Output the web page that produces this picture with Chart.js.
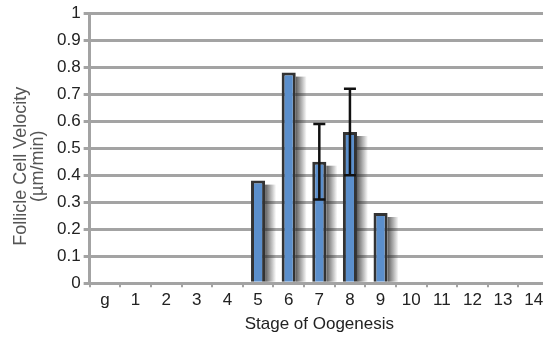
<!DOCTYPE html>
<html>
<head>
<meta charset="utf-8">
<script src="https://cdn.jsdelivr.net/npm/chart.js"></script>
<style>
  html, body { margin: 0; padding: 0; background: #fff; overflow: hidden; }
  /* the original plot runs a few pixels past the right edge of the picture */
  #clip { width: 543px; height: 337px; overflow: hidden; }
  #wrap { width: 549px; height: 337px; }
</style>
</head>
<body>
<div id="clip"><div id="wrap"><canvas id="barChart"></canvas></div></div>
<script>
// stages of oogenesis on the x axis
const stages = ['g', '1', '2', '3', '4', '5', '6', '7', '8', '9', '10', '11', '12', '13', '14'];
// mean velocity per stage (um/min), null where nothing was measured
const velocity = [null, null, null, null, null, 0.38, 0.78, 0.45, 0.56, 0.26, null, null, null, null, null];
// error bar ends, only stages 7 and 8 have them
const errLow  = [null, null, null, null, null, null, null, 0.31, 0.40, null, null, null, null, null, null];
const errHigh = [null, null, null, null, null, null, null, 0.59, 0.72, null, null, null, null, null, null];
const yTitle = ['Follicle Cell Velocity', '(µm/min)'];

const gridGray = '#a3a3a3';
const font = 'Liberation Sans, Arial, sans-serif';

// soft shadow strip to the right of each bar
const barShadow = {
  id: 'barShadow',
  beforeDatasetsDraw(chart) {
    const c = chart.ctx;
    const meta = chart.getDatasetMeta(0);
    c.save();
    meta.data.forEach((bar, i) => {
      if (velocity[i] == null) return;
      const right = bar.x + bar.width / 2;
      const g = c.createLinearGradient(right, 0, right + 11, 0);
      g.addColorStop(0, 'rgba(40,40,40,0.75)');
      g.addColorStop(1, 'rgba(40,40,40,0)');
      c.fillStyle = g;
      c.fillRect(right, bar.y + 4, 11, bar.base - bar.y - 4);
    });
    c.restore();
  }
};

// error bars drawn through the scales
const errorBars = {
  id: 'errorBars',
  afterDatasetsDraw(chart) {
    const c = chart.ctx;
    const y = chart.scales.y;
    const meta = chart.getDatasetMeta(0);
    c.save();
    c.strokeStyle = '#111';
    c.lineWidth = 2.5;
    meta.data.forEach((bar, i) => {
      if (errLow[i] == null) return;
      const x = bar.x;
      const yl = y.getPixelForValue(errLow[i]);
      const yh = y.getPixelForValue(errHigh[i]);
      c.beginPath();
      c.moveTo(x, yl); c.lineTo(x, yh);
      c.moveTo(x - 6, yl); c.lineTo(x + 6, yl);
      c.moveTo(x - 6, yh); c.lineTo(x + 6, yh);
      c.stroke();
    });
    c.restore();
  }
};

// two-line y title, placed like the original (a bit below centre)
const yAxisTitle = {
  id: 'yAxisTitle',
  afterDraw(chart) {
    const c = chart.ctx;
    const area = chart.chartArea;
    const cy = (area.top + area.bottom) / 2 + 18;
    c.save();
    c.fillStyle = '#555';
    c.font = '18px ' + font;
    c.textAlign = 'center';
    c.textBaseline = 'middle';
    yTitle.forEach((line, k) => {
      c.save();
      c.translate(21 + k * 17, cy);
      c.rotate(-Math.PI / 2);
      c.fillText(line, 0, 0);
      c.restore();
    });
    c.restore();
  }
};

new Chart(document.getElementById('barChart').getContext('2d'), {
  type: 'bar',
  data: {
    labels: stages,
    datasets: [{
      data: velocity,
      backgroundColor: '#5b8fcc',
      borderColor: '#333333',
      borderWidth: 3,
      borderSkipped: 'bottom',
      barPercentage: 0.46,
      categoryPercentage: 1
    }]
  },
  plugins: [barShadow, errorBars, yAxisTitle],
  options: {
    responsive: true,
    maintainAspectRatio: false,
    animation: false,
    layout: { padding: { top: 4, right: 0, left: 54, bottom: 2 } },
    plugins: {
      legend: { display: false },
      tooltip: { enabled: false }
    },
    scales: {
      x: {
        grid: {
          offset: true,
          drawOnChartArea: false,
          color: gridGray,
          lineWidth: 2,
          tickLength: 4
        },
        border: { color: gridGray, width: 3 },
        ticks: { color: '#222', font: { family: font, size: 17 }, padding: 3, maxRotation: 0, autoSkip: false },
        title: { display: true, text: 'Stage of Oogenesis', color: '#222', font: { family: font, size: 17 }, padding: { top: 1, bottom: 0 } }
      },
      y: {
        min: 0,
        max: 1,
        ticks: {
          stepSize: 0.1,
          color: '#222',
          font: { family: font, size: 17 },
          padding: 3,
          callback: v => String(Math.round(v * 10) / 10)
        },
        grid: { color: gridGray, lineWidth: 3, tickLength: 6 },
        border: { color: gridGray, width: 3 }
      }
    }
  }
});
</script>
</body>
</html>
